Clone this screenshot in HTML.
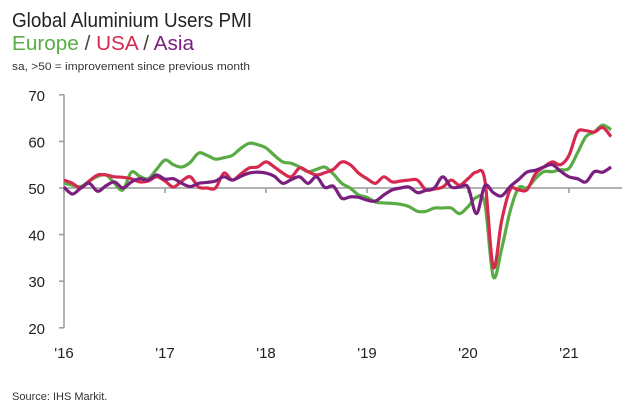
<!DOCTYPE html>
<html><head><meta charset="utf-8"><style>
body{margin:0;background:#fff;font-family:"Liberation Sans",sans-serif;}
</style></head><body>
<svg width="639" height="414" viewBox="0 0 639 414" xmlns="http://www.w3.org/2000/svg">
<text x="12" y="27" font-size="20" fill="#222" textLength="240" lengthAdjust="spacingAndGlyphs">Global Aluminium Users PMI</text>
<text x="12" y="50" font-size="20" textLength="182" lengthAdjust="spacingAndGlyphs"><tspan fill="#5aab46">Europe</tspan><tspan fill="#444"> / </tspan><tspan fill="#d6294f">USA</tspan><tspan fill="#444"> / </tspan><tspan fill="#7b1f7f">Asia</tspan></text>
<text x="12" y="70" font-size="11" fill="#333" textLength="238" lengthAdjust="spacingAndGlyphs">sa, &gt;50 = improvement since previous month</text>
<text x="12" y="400" font-size="11" fill="#333">Source: IHS Markit.</text>
<g id="axes"></g>
<g id="series"></g>
</svg>
<script>
const yTicks=[20,30,40,50,60,70];
const xTickLabels=["'16","'17","'18","'19","'20","'21"];
const europe=[51,50.6,50.3,51.5,52.5,52.8,51,49.6,53.4,52.5,52,54,56,55,54.5,55.5,57.5,57,56.2,56.5,57,58.5,59.6,59.3,58.6,57,55.6,55.3,54.5,53.5,54,54.5,53,51,50,48.5,48,47,46.8,46.7,46.5,46,45,45,45.7,45.7,45.7,44.5,46,48,46.7,31,37,45,50,50,52,53.5,53.5,53.9,54.2,57.5,61,62,63.5,62.5];
const usa=[51.7,51,50,51.5,52.8,52.8,52.4,52.3,52,51.3,51.5,52.4,51.5,50.2,51.5,52.4,50.2,50,50,53.2,51.7,53,54.3,54.5,55.6,54.5,53.2,52.4,54.3,53.5,52.8,53.3,54,55.6,55,53.2,52,51,52.4,51.3,51.5,51.7,51.7,49.6,49.8,50.2,51.7,50.6,52,53.4,51.7,33,43,49.6,49.6,49.6,53,54.5,55.6,55,57,62,62.3,62,63,61];
const asia=[50.2,48.7,50,51,49.3,50.5,51.3,50,51.3,52,51.7,52.8,51.9,52,51,50.3,51,51.2,51.5,52.4,51.7,52.5,53.2,53.4,53.2,52.5,51,51.8,52.4,51,52.4,50.1,50.4,47.8,48.1,48,47.4,47.2,48.5,49.6,50,50.2,49,49.5,50,52.4,50.2,50.2,50.2,44.5,50.5,49,48.3,50.3,51.8,53.4,53.8,54.5,55,53.6,52.4,52,51.3,53.5,53.4,54.5];
const NS="http://www.w3.org/2000/svg";
const x0=64,monthW=101/12;
function xs(i){return x0+i*monthW;}
function ys(v){return 188-(v-50)*4.66;}
const axes=document.getElementById('axes');
function mk(tag,attrs,parent){const e=document.createElementNS(NS,tag);for(const k in attrs)e.setAttribute(k,attrs[k]);parent.appendChild(e);return e;}
const yAxis=mk('line',{x1:x0,y1:ys(70),x2:x0,y2:ys(20),stroke:'#999','stroke-width':1.5},axes);


yTicks.forEach(t=>{
  const tk=mk('line',{x1:x0-5,y1:ys(t),x2:x0,y2:ys(t),stroke:'#999','stroke-width':1.5},axes);
  
  
  const lb=mk('text',{x:45,y:ys(t)+6,'font-size':15,fill:'#222','text-anchor':'end'},axes);
  lb.textContent=t;
  
  
});
const xAxis=mk('line',{x1:x0,y1:ys(50),x2:622,y2:ys(50),stroke:'#999','stroke-width':1.5},axes);


xTickLabels.forEach((l,k)=>{
  const x=xs(k*12);
  const tk=mk('line',{x1:x,y1:ys(50),x2:x,y2:ys(50)+5,stroke:'#999','stroke-width':1.5},axes);
  
  
  const lb=mk('text',{x:x,y:358,'font-size':15,fill:'#222','text-anchor':'middle'},axes);
  lb.textContent=l;
  
  
});
function pathD(arr){
  const p=arr.map((v,i)=>[xs(i),ys(v)]);
  let d='M'+p[0][0]+','+p[0][1];
  for(let i=0;i<p.length-1;i++){
    const a=p[Math.max(i-1,0)],b=p[i],c=p[i+1],e=p[Math.min(i+2,p.length-1)];
    const c1=[b[0]+(c[0]-a[0])/6,b[1]+(c[1]-a[1])/6],c2=[c[0]-(e[0]-b[0])/6,c[1]-(e[1]-b[1])/6];
    d+=' C'+c1[0]+','+c1[1]+' '+c2[0]+','+c2[1]+' '+c[0]+','+c[1];
  }
  return d;
}
const g=document.getElementById('series');
const e1=mk('path',{d:pathD(europe),fill:'none',stroke:'#5aab46','stroke-width':3.2,'stroke-linejoin':'round'},g);


const e2=mk('path',{d:pathD(usa),fill:'none',stroke:'#d6294f','stroke-width':3.2,'stroke-linejoin':'round'},g);


const e3=mk('path',{d:pathD(asia),fill:'none',stroke:'#7b1f7f','stroke-width':3.2,'stroke-linejoin':'round'},g);


</script>
</body></html>
